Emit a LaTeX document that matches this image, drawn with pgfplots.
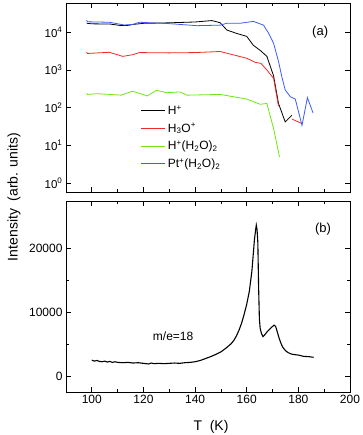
\documentclass[border=0pt]{standalone}
\usepackage{fontspec}
\setmainfont{Liberation Sans}
\usepackage{pgfplots}
\pgfplotsset{compat=1.18}
\definecolor{cred}{RGB}{240,40,40}
\definecolor{cgreen}{RGB}{110,230,20}
\definecolor{cblue}{RGB}{60,90,250}
\pgfplotsset{myax/.style={
  scale only axis, width=284pt,
  xmin=90, xmax=200, xtick={100,120,...,200}, minor x tick num=1,
  tick align=inside, major tick length=5pt, minor tick length=3pt,
  tick style={black, line width=0.7pt},
  axis line style={line width=0.9pt},
  ticklabel style={font=\fontsize{12}{14}\selectfont},
  /pgf/number format/assume math mode=true,
}}
\begin{document}
\begin{tikzpicture}
\useasboundingbox (0pt,0pt) rectangle (362pt,435pt);
\begin{axis}[myax, at={(66pt,243pt)}, anchor=south west, height=189pt,
  ymode=log, log basis y=10, ymin=0.58, ymax=60000,
  ytick={1,10,100,1000,10000},
  yticklabel={10\textsuperscript{\pgfmathprintnumber[fixed,precision=0]{\tick}}},
  ticklabel style={font=\fontsize{11.5}{14}\selectfont},
  xticklabels={},
  unbounded coords=jump,
  legend style={at={(0.26,0.475)}, anchor=north west, draw=none, fill=none,
    font=\fontsize{12}{14}\selectfont, row sep=3.2pt, inner sep=1pt},
  legend cell align=left,
  legend image code/.code={\draw[#1] (0pt,0pt) -- (24pt,0pt);},
]
\addplot[black, line width=0.8pt] coordinates {
(98,17400) (100,16800) (107,16600) (111,15200) (114,15300) (116,16200)
(120,17300) (129,17800) (140,18800) (146.5,20500) (149.7,18000) (152.3,11500)
(156,9400) (160,7800) (162.6,4500) (165.5,3200) (167.8,2300) (170.4,700)
(172.3,130) (174.9,42) (177.5,63)};
\addlegendentry{H\textsuperscript{+}}
\addplot[cred, line width=0.8pt] coordinates {
(98,3000) (98.3,2750) (106.8,2950) (112,2300) (115.9,2550) (118.4,2900)
(130,2850) (140,2900) (149.7,3100) (160,2050) (163.3,1600) (165.5,1500)
(167.8,1000) (170.4,600) (172.3,110) (175,nan) (177.5,50) (181.4,38)};
\addlegendentry{H\textsubscript{3}O\textsuperscript{+}}
\addplot[cgreen, line width=0.8pt] coordinates {
(98,240) (98.3,225) (102,235) (107,225) (111.4,215) (115.7,275) (121.5,205)
(125,290) (129,250) (134.2,262) (136.8,215) (149.7,225) (154.9,195) (160,170)
(165.2,123) (167.8,130) (169.1,60) (170.4,28) (172.7,4.9)};
\addlegendentry{H\textsuperscript{+}(H\textsubscript{2}O)\textsubscript{2}}
\addplot[cblue, line width=0.8pt] coordinates {
(98,21000) (98.3,19000) (106.8,18500) (112.6,15600) (115.9,16200) (118.4,18500)
(130,17000) (140.7,15000) (149.7,15500) (152.3,17400) (157.5,17400) (162.6,19500)
(166.5,15500) (168.5,9400) (170.4,5100) (172.3,1700) (173.6,660) (174.9,295)
(176.9,195) (178.8,170) (181.4,34) (183.5,185) (185.7,72)};
\addlegendentry{Pt\textsuperscript{+}(H\textsubscript{2}O)\textsubscript{2}}
\node[font=\fontsize{13}{15}\selectfont] at (rel axis cs:0.895,0.845) {(a)};
\end{axis}
\begin{axis}[myax, at={(66pt,43pt)}, anchor=south west, height=191pt,
  ymin=-2500, ymax=27500, ytick={0,10000,20000}, minor y tick num=1,
  scaled y ticks=false,
  yticklabel style={/pgf/number format/.cd, fixed, 1000 sep={}},
]
\addplot[black, line width=1.1pt] coordinates {
(100,2500) (101,2350) (102,2450) (103,2300) (104,2250) (105,2350) (106,2200)
(107,2300) (108,2150) (109,2250) (110,2150) (112,2100) (114,2150) (116,2050)
(118,2100) (120,2000) (121,1950) (122,1900) (123,2050) (124,1950) (126,2000)
(128,1950) (130,2000) (132,2050) (134,2000) (136,2100) (138,2150) (140,2250)
(142,2450) (144,2750) (146,3050) (148,3400) (150,3800) (152,4400) (154,5100)
(155,5600) (156,6300) (157,7200) (158,8300) (159,9700) (160,11300) (161,13300)
(162,16500) (162.5,19000) (163,21500) (163.4,22800) (163.7,23700) (164,23000)
(164.3,21000) (164.6,14000) (164.9,9000) (165.2,7500) (165.7,6700) (166.3,6200)
(167,6500) (168,7000) (169,7400) (170,7800) (170.6,8000) (171.2,7800) (171.8,7000)
(172.5,6000) (173.3,5100) (174,4500) (175,4000) (176,3700) (177,3500) (178,3400)
(180,3300) (182,3100) (184,3050) (185.9,2950)};
\node[font=\fontsize{12}{14}\selectfont] at (axis cs:131.5,6300) {m/e=18};
\node[font=\fontsize{13}{15}\selectfont] at (rel axis cs:0.905,0.855) {(b)};
\end{axis}
\node[rotate=90, font=\fontsize{14}{16}\selectfont] at (14pt,238pt) {Intensity\ \ (arb. units)};
\node[font=\fontsize{14}{16}\selectfont] at (211pt,8pt) {T\ \ (K)};
\end{tikzpicture}
\end{document}
